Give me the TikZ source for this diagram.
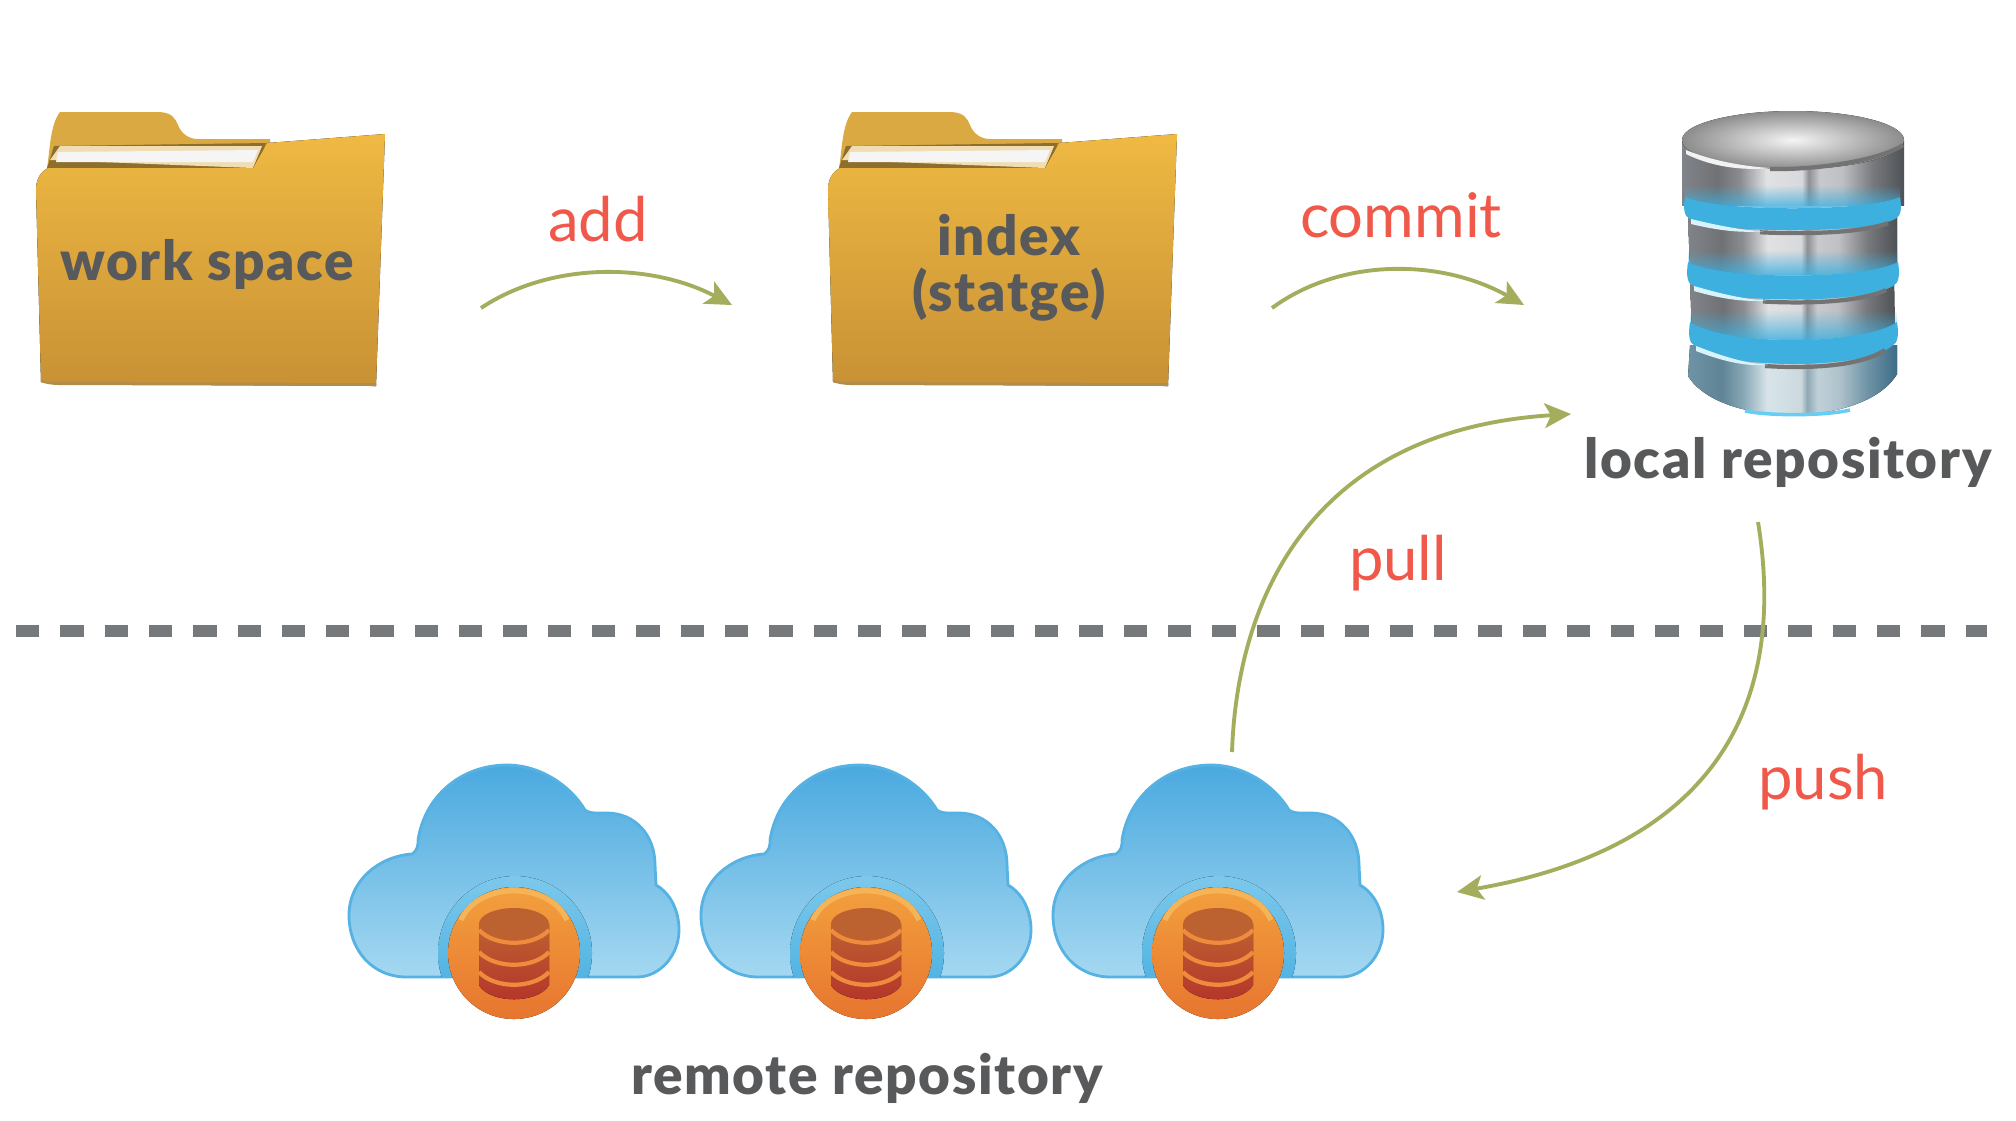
\documentclass[tikz,border=0pt]{standalone}
\usepackage{fontspec}
\setmainfont{Lato}
\newfontfamily\heavyfont[LetterSpace=3]{Lato Black}
\usetikzlibrary{arrows.meta,fadings}
\definecolor{textgray}{HTML}{58595B}
\definecolor{labelred}{HTML}{F0584A}
\definecolor{arrowgreen}{HTML}{A3AD5C}
\definecolor{linegray}{HTML}{76797C}
\definecolor{cloudedge}{HTML}{55B2E3}
\definecolor{ringblue}{HTML}{3DB0E0}
\definecolor{tabyellow}{HTML}{DBA942}
\definecolor{folderlight}{HTML}{EFB943}
\definecolor{foldermid}{HTML}{E8B047}
\definecolor{folderdark}{HTML}{C89135}
\definecolor{cloudtop}{HTML}{4AA9DF}
\definecolor{cloudbottom}{HTML}{A5D8F1}
\definecolor{halotop}{HTML}{7CC8EC}
\definecolor{halobottom}{HTML}{3FA9DE}
\definecolor{badgetop}{HTML}{F3A03E}
\definecolor{badgebottom}{HTML}{E7752F}
\definecolor{badgerim}{HTML}{F5B458}
\definecolor{badgeband}{HTML}{EE8B3C}
\definecolor{dbtop}{HTML}{BC6230}
\definecolor{dbbottom}{HTML}{B5332A}
\definecolor{mA}{HTML}{808488}\definecolor{mB}{HTML}{6F7175}\definecolor{mC}{HTML}{8A8C90}
\definecolor{mD}{HTML}{E0E1E3}\definecolor{mE}{HTML}{D8D9DC}\definecolor{mF}{HTML}{8E9094}
\definecolor{mG}{HTML}{C8C9CC}\definecolor{mH}{HTML}{BFC0C3}\definecolor{mI}{HTML}{77797D}
\definecolor{mJ}{HTML}{4E5155}
\definecolor{bA}{HTML}{6E93A6}\definecolor{bB}{HTML}{5F8496}\definecolor{bC}{HTML}{86A6B4}
\definecolor{bD}{HTML}{D8E4E9}\definecolor{bE}{HTML}{CBD9DF}\definecolor{bF}{HTML}{8FA8B4}
\definecolor{bG}{HTML}{C0D0D8}\definecolor{bH}{HTML}{AFC3CC}\definecolor{bI}{HTML}{6E93A6}
\definecolor{bJ}{HTML}{3E6C86}
\pgfdeclarehorizontalshading{metal}{100bp}{
  color(0bp)=(mA);color(25bp)=(mA);color(33bp)=(mB);color(38bp)=(mC);
  color(44bp)=(mD);color(52bp)=(mE);color(53.5bp)=(mF);color(56bp)=(mG);
  color(61bp)=(mH);color(68bp)=(mI);color(75bp)=(mJ);color(100bp)=(mJ)}
\pgfdeclarehorizontalshading{bluemetal}{100bp}{
  color(0bp)=(bA);color(25bp)=(bA);color(33bp)=(bB);color(38bp)=(bC);
  color(44bp)=(bD);color(52bp)=(bE);color(53.5bp)=(bF);color(56bp)=(bG);
  color(61bp)=(bH);color(68bp)=(bI);color(75bp)=(bJ);color(100bp)=(bJ)}
\tikzset{
  boldtext/.style={text=textgray,font=\fontsize{15.6}{18}\selectfont\heavyfont,align=center},
  redlabel/.style={text=labelred,font=\fontsize{17.5}{20}\selectfont},
  flow/.style={draw=arrowgreen,line width=1.1pt,-{Stealth[length=7.5pt,width=7pt,inset=1.8pt]}},
  folderpic/.pic={
    \fill[tabyellow] (47,168) .. controls (50,150) and (50,125) .. (60,112) -- (160,112) .. controls (172,113) and (175,118) .. (178,125) .. controls (182,135) and (190,139) .. (198,139) -- (270,139) -- (270,170) -- cycle;
    \fill[black!35!tabyellow] (47,168) -- (54,146) -- (266,143) -- (256,170) -- cycle;
    \fill[white!60!tabyellow] (50,160) -- (60,146) -- (262,146) -- (253,168) -- cycle;
    \fill[white!92!gray] (58,152) -- (258,150) -- (253,162) -- (56,162) -- cycle;
    \fill[top color=folderlight,middle color=foldermid,bottom color=folderdark] (36,190) .. controls (36,180) and (40,172) .. (48,168) -- (253,168) -- (267,143) -- (385,134) -- (376,386) -- (60,384) .. controls (52,384) and (46,383) .. (41,382) -- cycle;
    \fill[folderdark!70!gray] (41,380) .. controls (48,382) and (52,382) .. (60,382) -- (376,383) -- (376,386) -- (60,385) .. controls (52,385) and (46,384) .. (41,382) -- cycle;
  },
  cloudpic/.pic={
    \path[top color=cloudtop,bottom color=cloudbottom,draw=cloudedge,line width=0.8pt] (77,237) .. controls (42,237) and (19,210) .. (19,175) .. controls (19,140) and (50,116) .. (82,114) .. controls (88,110) and (88,105) .. (88,100) .. controls (95,55) and (132,25) .. (177,25) .. controls (210,25) and (240,45) .. (255,70) .. controls (260,74) and (270,73) .. (277,73) .. controls (305,73) and (325,95) .. (325,125) -- (326,145) .. controls (340,153) and (349,170) .. (349,190) .. controls (349,215) and (330,237) .. (307,237) -- cycle;
    \begin{scope}
      \clip (0,0) rectangle (370,236);
      \fill[top color=halotop,bottom color=halobottom] (185,213) circle (77);
    \end{scope}
    \fill[top color=badgetop,bottom color=badgebottom] (184,213) circle (66);
    \draw[badgerim,line width=1.5pt] (131,180) .. controls (148,141) and (220,141) .. (237,180);
    \fill[top color=dbtop,bottom color=dbbottom] (149,184) -- (149,245) .. controls (160,264) and (208,264) .. (219,245) -- (219,184) -- cycle;
    \fill[dbtop] (184,184) ellipse (35 and 16);
    \foreach \ypos in {190,212,232} {
      \draw[badgeband,line width=1.2pt] (149,\ypos) .. controls (165,\ypos+17) and (203,\ypos+17) .. (219,\ypos);
    }
  }
}
\begin{document}
\begin{tikzpicture}[x=0.01cm,y=-0.01cm]
  \useasboundingbox (0,0) rectangle (2016,1120);
  \pic at (0,0) {folderpic};
  \pic at (792,0) {folderpic};
  \node[boldtext] (workspace) at (207,264) {work space};
  \node[boldtext] (indexstage) at (1009,268) {index\\[-2pt](statge)};

  \fill[shading=bluemetal] (1690,345) -- (1688,376) .. controls (1720,428) and (1865,428) .. (1897,374) -- (1897,345) -- cycle;
  \draw[cyan!60!white,line width=1pt] (1745,411) .. controls (1770,416) and (1825,416) .. (1850,410);
  \fill[shading=metal] (1690,278) -- (1692,340) -- (1895,340) -- (1894,278) -- cycle;
  \fill[shading=metal] (1688,215) -- (1690,275) -- (1897,275) -- (1897,215) -- cycle;
  \fill[shading=metal] (1682,140) -- (1682,205) -- (1904,205) -- (1904,140) -- cycle;
  \foreach \ypos/\xl/\xr/\high/\bend in {193/1685/1900/26/15,258/1688/1898/28/18,318/1690/1897/28/24} {
    \fill[ringblue,path fading=north] (\xl,\ypos-8) -- (\xr,\ypos-8) -- (\xr,\ypos+4) .. controls (\xr-35,\ypos+4+\bend) and (\xl+35,\ypos+4+\bend) .. (\xl,\ypos+4) -- cycle;
    \fill[ringblue] (\xl,\ypos+4) .. controls (\xl+35,\ypos+4+\bend) and (\xr-35,\ypos+4+\bend) .. (\xr,\ypos+4) .. controls (\xr+2,\ypos+\high*0.6) and (\xr+1,\ypos+\high*0.9) .. (\xr-5,\ypos+\high) .. controls (\xr-35,\ypos+\high+\bend) and (\xl+35,\ypos+\high+\bend) .. (\xl+5,\ypos+\high) .. controls (\xl-1,\ypos+\high*0.9) and (\xl-2,\ypos+\high*0.6) .. (\xl,\ypos+4) -- cycle;
    \draw[black!55!white,line width=1.2pt] (\xl+75,\ypos+\high+2+\bend*0.75) .. controls (\xl+110,\ypos+\high+3+\bend*0.8) and (\xr-40,\ypos+\high+3+\bend*0.8) .. (\xr-12,\ypos+\high+4);
    \fill[white!85!cyan] (\xl+6,\ypos+\high) .. controls (\xl+25,\ypos+\high+\bend*0.3) and (\xl+50,\ypos+\high+\bend*0.7) .. (\xl+78,\ypos+\high+1+\bend*0.75) .. controls (\xl+50,\ypos+\high+4+\bend*0.7) and (\xl+25,\ypos+\high+5+\bend*0.3) .. (\xl+6,\ypos+\high+5) -- cycle;
  }
  \fill[shading=radial,inner color=white!92!gray,outer color=black!45!white] (1793,140) ellipse (111 and 29);
  \fill[white!90!gray] (1686,150) .. controls (1710,160) and (1740,166) .. (1770,168) .. controls (1740,171) and (1710,166) .. (1686,154) -- cycle;
  \draw[black!55!white,line width=1.2pt] (1770,169) .. controls (1820,170) and (1880,160) .. (1903,145);
  \node[boldtext] (localrepo) at (1788,462) {local repository};

  \draw[linegray,line width=3.41pt,dash pattern=on 6.63pt off 5.97pt] (16,631) -- (1987,631);

  \pic at (330,740) {cloudpic};
  \pic at (682,740) {cloudpic};
  \pic at (1034,740) {cloudpic};
  \node[boldtext] (remoterepo) at (867,1078) {remote repository};

  \coordinate (addstart) at (481,308);
  \coordinate (addend) at (732,305);
  \coordinate (commitstart) at (1272,308);
  \coordinate (commitend) at (1524,305);
  \coordinate (pullstart) at (1232,752);
  \coordinate (pullend) at (1571,414);
  \coordinate (pushstart) at (1758,522);
  \coordinate (pushend) at (1457,892);
  \draw[flow] (addstart) .. controls (550,262) and (650,262) .. (addend);
  \draw[flow] (commitstart) .. controls (1340,258) and (1440,258) .. (commitend);
  \draw[flow] (pullstart) .. controls (1237,600) and (1310,430) .. (pullend);
  \draw[flow] (pushstart) .. controls (1790,720) and (1700,850) .. (pushend);
  \node[redlabel] (addlabel) at (598,219) {add};
  \node[redlabel] (commitlabel) at (1401,215) {commit};
  \node[redlabel] (pulllabel) at (1398,563) {pull};
  \node[redlabel] (pushlabel) at (1823,782) {push};
\end{tikzpicture}
\end{document}
